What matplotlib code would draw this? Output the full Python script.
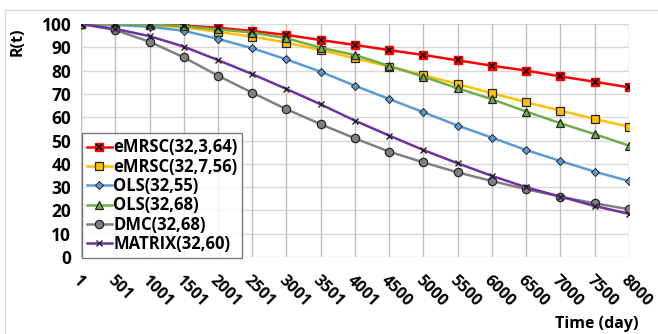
import numpy as np
import matplotlib.pyplot as plt
from matplotlib.lines import Line2D

days = ["1", "501", "1001", "1501", "2001", "2501", "3001", "3501", "4001",
        "4500", "5000", "5500", "6000", "6500", "7000", "7500", "8000"]

emrsc_3_64 = [100, 100, 99.7, 99.3, 98.4, 97.0, 95.3, 93.1, 91.0, 88.8,
              86.7, 84.4, 82.1, 80.0, 77.5, 75.2, 72.8]
emrsc_7_56 = [100, 100, 99.5, 98.6, 96.6, 94.6, 92.0, 88.8, 85.3, 81.7,
              78.1, 74.2, 70.3, 66.4, 62.8, 59.2, 55.9]
ols_55 = [100, 99.6, 98.8, 97.1, 93.6, 89.6, 84.8, 79.5, 73.5, 67.8,
          62.1, 56.4, 51.2, 45.9, 41.2, 36.6, 32.6]
ols_68 = [100, 100, 99.8, 99.0, 97.7, 96.3, 93.9, 89.8, 86.7, 82.0,
          77.4, 72.4, 67.7, 62.4, 57.4, 52.7, 47.8]
dmc_68 = [100, 97.4, 92.4, 85.7, 77.8, 70.5, 63.4, 57.0, 50.9, 45.2,
          40.6, 36.3, 32.6, 29.1, 25.9, 23.0, 20.5]
matrix_60 = [100, 97.9, 94.8, 90.3, 84.5, 78.5, 72.1, 65.5, 58.5, 52.1,
             45.9, 40.2, 34.8, 29.9, 25.9, 21.9, 18.5]

labels = ["eMRSC(32,3,64)", "eMRSC(32,7,56)", "OLS(32,55)", "OLS(32,68)",
          "DMC(32,68)", "MATRIX(32,60)"]

plt.rcParams['font.family'] = ['Open Sans', 'DejaVu Sans']
plt.rcParams['font.weight'] = 'bold'

fig = plt.figure(figsize=(6.58, 3.34), dpi=100)
ax = fig.add_axes([81 / 658, 1 - 257 / 334, 548 / 658, 233 / 334])

x = np.arange(len(days))
lw = 1.8
edge = "#262626"

handles = []
ax.plot(x, emrsc_3_64, "-", color="#FF0000", lw=lw, marker="s", ms=6,
        mfc="#FF0000", mec="#FF0000", zorder=3)
ax.plot(x, emrsc_3_64, "none", marker="x", ms=5, mec="#111111", mew=1.2, zorder=4)
handles.append((Line2D([], [], color="#FF0000", lw=lw, marker="s", ms=6,
                       mfc="#FF0000", mec="#FF0000"),
                Line2D([], [], ls="none", marker="x", ms=5, mec="#111111", mew=1.2)))

h, = ax.plot(x, emrsc_7_56, "-", color="#FFC000", lw=lw, marker="s", ms=6,
             mfc="#FFC000", mec=edge, mew=0.9, zorder=3)
handles.append(h)
h, = ax.plot(x, ols_55, "-", color="#5B9BD5", lw=lw, marker="D", ms=4,
             mfc="#5B9BD5", mec=edge, mew=0.7, zorder=3)
handles.append(h)
h, = ax.plot(x, ols_68, "-", color="#70AD47", lw=lw, marker="^", ms=6,
             mfc="#70AD47", mec=edge, mew=0.9, zorder=3)
handles.append(h)
h, = ax.plot(x, dmc_68, "-", color="#808080", lw=lw, marker="o", ms=6,
             mfc="#808080", mec=edge, mew=0.9, zorder=3)
handles.append(h)
h, = ax.plot(x, matrix_60, "-", color="#7030A0", lw=lw, marker="x", ms=5,
             mec="#222222", mew=1.0, zorder=3)
handles.append(h)

ax.set_xlim(0, len(days) - 1)
ax.set_ylim(0, 100)
ax.set_yticks(np.arange(0, 101, 10))
ax.set_xticks(x)
ax.set_xticklabels(days, rotation=-45, ha="left", va="top",
                   rotation_mode="anchor", fontsize=11.5, fontweight="bold")
ax.tick_params(axis="x", pad=11, length=0)
ax.tick_params(axis="y", length=0, pad=7, labelsize=12.5)
for t in ax.get_yticklabels():
    t.set_fontweight("bold")

for v in ax.get_yticks():
    ax.axhline(v, color="#D9D9D9", lw=1, zorder=1)
for xi in x:
    ax.axvline(xi, color="#BFBFBF", lw=1, zorder=1)
for s in ax.spines.values():
    s.set_visible(False)

leg = ax.legend(handles, labels, loc="lower left", bbox_to_anchor=(0.001, -0.005),
                fontsize=12, frameon=True, fancybox=False, handlelength=1.5,
                handletextpad=0.1, labelspacing=0.08, borderpad=0.3,
                borderaxespad=0)
leg.get_frame().set_edgecolor("#595959")
leg.get_frame().set_linewidth(1)
for t in leg.get_texts():
    t.set_fontweight("bold")
leg.set_zorder(5)

fig.text(18 / 658, 1 - 42 / 334, "R(t)", rotation=90, ha="center", va="center",
         fontsize=11.5, fontweight="bold")
fig.text(597 / 658, 1 - 324 / 334, "Time (day)", ha="center", va="center",
         fontsize=11.5, fontweight="bold")

# outer chart border (partly visible)
fig.add_artist(Line2D([5 / 658, 1], [1 - 10 / 334] * 2, color="#D9D9D9", lw=1))
fig.add_artist(Line2D([5 / 658] * 2, [0, 1 - 10 / 334], color="#D9D9D9", lw=1))

fig.savefig("out.png", dpi=100)
